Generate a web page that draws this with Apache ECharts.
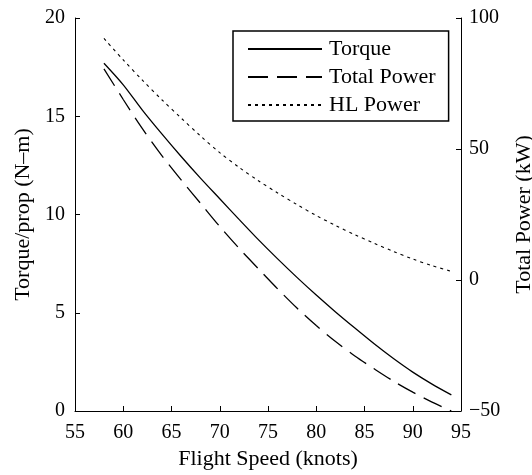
<!DOCTYPE html>
<html>
<head>
<meta charset="utf-8">
<script src="https://cdn.jsdelivr.net/npm/echarts@6/dist/echarts.min.js"></script>
<style>
  html, body { margin: 0; padding: 0; background: #fff; }
  #chart { width: 532px; height: 475px; }
</style>
</head>
<body>
<div id="chart"></div>
<script>
// flight speed (knots)
var speed = [58, 60, 62, 64, 66, 68, 70, 72, 74, 76, 78, 80, 82, 84, 86, 88, 90, 92, 94];
// torque per prop (N-m), left axis
var torque = [17.7, 16.6, 15.3, 14.1, 12.95, 11.85, 10.8, 9.75, 8.72, 7.74, 6.8, 5.9, 5.04, 4.22, 3.42, 2.67, 1.98, 1.37, 0.82];
// total power (kW), right axis
var totalPower = [80.6, 68.9, 57.7, 47.5, 38.2, 29.3, 20.4, 12.1, 4.3, -3.4, -10.7, -17.4, -23.5, -29.0, -33.9, -38.6, -42.8, -46.6, -50.0];
// HL power (kW), right axis
var hlPower = [92.2, 84.0, 76.2, 68.8, 61.8, 55.0, 48.6, 43.0, 37.9, 33.2, 28.8, 24.6, 20.8, 17.3, 14.0, 10.9, 8.0, 5.5, 3.3];

var seriesNames = ['Torque', 'Total Power', 'HL Power'];

function pairs(xs, ys) {
  return xs.map(function (x, i) { return [x, ys[i]]; });
}

var font = 'Liberation Serif';
var black = '#000';

var chart = echarts.init(document.getElementById('chart'));

// y axis shared bits (MATLAB look: ticks inside, no grid)
function yAxisBase() {
  return {
    type: 'value',
    splitLine: { show: false },
    axisLine: { show: true, lineStyle: { color: black, width: 1 } },
    axisTick: { show: true, inside: true, length: 5, lineStyle: { color: black } },
    nameLocation: 'middle',
    nameRotate: 90,
    nameTextStyle: { fontFamily: font, fontSize: 22, color: black },
    axisLabel: { fontFamily: font, fontSize: 20, color: black }
  };
}

var yLeft = yAxisBase();
yLeft.position = 'left';
yLeft.min = 0; yLeft.max = 20; yLeft.interval = 5;
yLeft.name = 'Torque/prop (N\u2013m)';
yLeft.nameGap = 39;
yLeft.axisLabel.margin = 10;

var yRight = yAxisBase();
yRight.position = 'right';
yRight.min = -50; yRight.max = 100; yRight.interval = 50;
yRight.name = 'Total Power (kW)';
yRight.nameGap = 52;
yRight.axisLabel.margin = 8;
yRight.axisLabel.formatter = function (v) { return String(v).replace('-', '\u2212'); };

chart.setOption({
  animation: false,
  backgroundColor: '#fff',
  grid: { left: 75, right: 71, top: 18, bottom: 64, outerBoundsMode: 'none', containLabel: false },
  legend: {
    orient: 'vertical',
    left: 233,
    top: 31,
    data: seriesNames,
    itemWidth: 74,
    itemHeight: 18,
    itemGap: 6,
    padding: [7, 13, 5, 14],
    borderColor: black,
    borderWidth: 1.5,
    backgroundColor: '#fff',
    itemStyle: { opacity: 0 },
    textStyle: { fontFamily: font, fontSize: 22, color: black, lineHeight: 22, padding: [0, 0, 0, 2] }
  },
  xAxis: {
    type: 'value',
    min: 55, max: 95, interval: 5,
    name: 'Flight Speed (knots)',
    nameLocation: 'middle',
    nameGap: 37,
    nameTextStyle: { fontFamily: font, fontSize: 22, color: black },
    splitLine: { show: false },
    axisLine: { show: true, onZero: false, lineStyle: { color: black, width: 1 } },
    axisTick: { show: true, inside: true, length: 5, lineStyle: { color: black } },
    axisLabel: { fontFamily: font, fontSize: 20, color: black, margin: 12 }
  },
  yAxis: [yLeft, yRight],
  series: [
    {
      name: seriesNames[0], type: 'line', yAxisIndex: 0,
      data: pairs(speed, torque),
      symbol: 'none', smooth: 0.3,
      lineStyle: { color: black, width: 1.3, type: 'solid' },
      itemStyle: { color: black }
    },
    {
      name: seriesNames[1], type: 'line', yAxisIndex: 1,
      data: pairs(speed, totalPower),
      symbol: 'none', smooth: 0.3,
      lineStyle: { color: black, width: 1.3, type: [20, 9] },
      itemStyle: { color: black }
    },
    {
      name: seriesNames[2], type: 'line', yAxisIndex: 1,
      data: pairs(speed, hlPower),
      symbol: 'none', smooth: 0.3,
      lineStyle: { color: black, width: 1.1, type: [3, 4] },
      itemStyle: { color: black }
    }
  ]
});
</script>
</body>
</html>
